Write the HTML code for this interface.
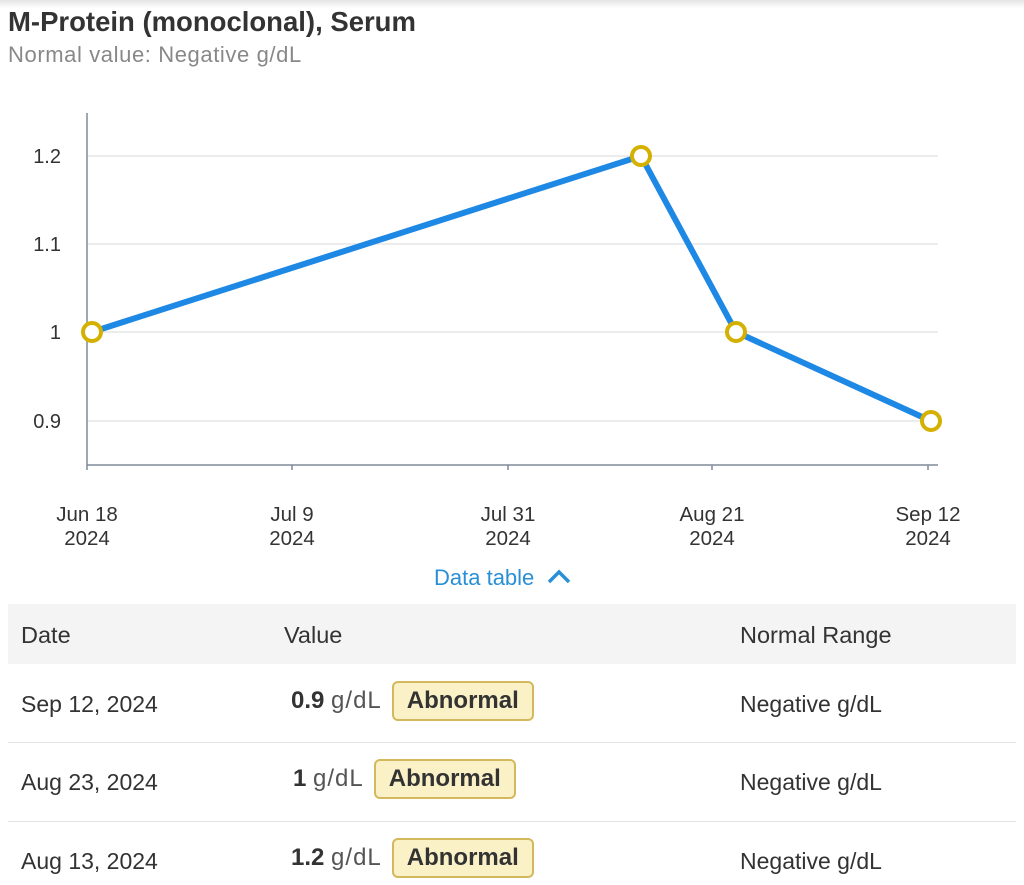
<!DOCTYPE html>
<html><head><style>
body{margin:0;width:1024px;height:885px;background:#fff;overflow:hidden;font-family:"Liberation Sans",sans-serif;position:relative}
.t{position:absolute;white-space:nowrap}
.h{font-size:27.5px;font-weight:bold;color:#333;left:8px;top:6px}
.s{font-size:22px;color:#888;left:8px;top:42px;letter-spacing:0.6px}
.badge{display:inline-block;background:#fbf1c7;border:2px solid #d4b95c;border-radius:6px;padding:4px 13px;font-weight:bold;color:#333;margin-left:10px;font-size:24px}
.row{position:absolute;left:8px;width:1008px;font-size:23px;color:#333}
</style></head><body>
<div style="position:absolute;left:0;top:0;width:1024px;height:8px;background:linear-gradient(#e4e4e4,#fff)"></div>
<div class="t h">M-Protein (monoclonal), Serum</div>
<div class="t s">Normal value: Negative g/dL</div>
<svg style="position:absolute;left:0;top:0" width="1024" height="560">
<g stroke="#e6e6e6" stroke-width="1.5">
<line x1="87" y1="156" x2="938" y2="156"/><line x1="87" y1="244" x2="938" y2="244"/><line x1="87" y1="332" x2="938" y2="332"/><line x1="87" y1="421" x2="938" y2="421"/></g>
<g stroke="#7f8a99" stroke-width="1.5">
<line x1="87" y1="113" x2="87" y2="470"/><line x1="87" y1="465" x2="938" y2="465"/>
<line x1="292" y1="465" x2="292" y2="470"/><line x1="508" y1="465" x2="508" y2="470"/><line x1="712" y1="465" x2="712" y2="470"/><line x1="928" y1="465" x2="928" y2="470"/></g>
<g font-size="20" fill="#333" text-anchor="end">
<text x="61" y="163">1.2</text><text x="61" y="251">1.1</text><text x="61" y="339">1</text><text x="61" y="428">0.9</text></g>
<g font-size="20.5" fill="#333" text-anchor="middle">
<text x="87" y="521">Jun 18</text><text x="87" y="545">2024</text>
<text x="292" y="521">Jul 9</text><text x="292" y="545">2024</text>
<text x="508" y="521">Jul 31</text><text x="508" y="545">2024</text>
<text x="712" y="521">Aug 21</text><text x="712" y="545">2024</text>
<text x="928" y="521">Sep 12</text><text x="928" y="545">2024</text></g>
<polyline points="92,332 641,156 736,332 931,421" fill="none" stroke="#1e88e5" stroke-width="6" stroke-linejoin="round"/>
<g fill="#fff" stroke="#d4b000" stroke-width="4">
<circle cx="92" cy="332" r="9"/><circle cx="641" cy="156" r="9"/><circle cx="736" cy="332" r="9"/><circle cx="931" cy="421" r="9"/></g>
</svg>
<div class="t" style="left:434px;top:565px;font-size:22px;color:#2a8fd6">Data table <svg width="26" height="16" style="margin-left:6px"><polyline points="3,13 13,3 23,13" fill="none" stroke="#2a8fd6" stroke-width="3.5"/></svg></div>
<div class="row" style="top:604px;height:60px;background:#f4f4f4;font-size:23.5px"><span class="t" style="left:13px;top:18px">Date</span><span class="t" style="left:276px;top:18px">Value</span><span class="t" style="left:732px;top:18px">Normal Range</span></div>
<div class="row" style="top:664px;height:78px;border-bottom:1.5px solid #e2e2e2"><span class="t" style="left:13px;top:27px">Sep 12, 2024</span><span class="t" style="left:283px;top:17px;font-size:24px"><b>0.9</b> <span style="color:#555;letter-spacing:1px">g/dL</span><span class="badge">Abnormal</span></span><span class="t" style="left:732px;top:27px">Negative g/dL</span></div>
<div class="row" style="top:743px;height:78px;border-bottom:1.5px solid #e2e2e2"><span class="t" style="left:13px;top:26px">Aug 23, 2024</span><span class="t" style="left:285px;top:16px;font-size:24px"><b>1</b> <span style="color:#555;letter-spacing:1px">g/dL</span><span class="badge">Abnormal</span></span><span class="t" style="left:732px;top:26px">Negative g/dL</span></div>
<div class="row" style="top:822px;height:63px"><span class="t" style="left:13px;top:26px">Aug 13, 2024</span><span class="t" style="left:283px;top:16px;font-size:24px"><b>1.2</b> <span style="color:#555;letter-spacing:1px">g/dL</span><span class="badge">Abnormal</span></span><span class="t" style="left:732px;top:26px">Negative g/dL</span></div>
</body></html>
